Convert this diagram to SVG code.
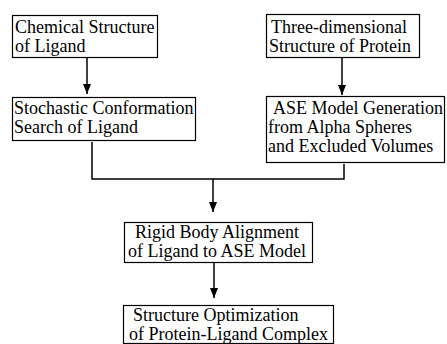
<svg xmlns="http://www.w3.org/2000/svg" width="447" height="344" viewBox="0 0 447 344">
<defs>
<marker id="ah" markerWidth="10" markerHeight="8" refX="10" refY="4" orient="auto" markerUnits="userSpaceOnUse" viewBox="0 0 10 8">
<path d="M0,0 L10,4 L0,8 Z" fill="#000"/>
</marker>
</defs>
<style>
rect{fill:#fff;stroke:#000;stroke-width:1.2}
text{font-family:'Liberation Serif','Times New Roman',serif;font-size:18px;fill:#000}
.c{fill:none;stroke:#000;stroke-width:1.5}
</style>
<rect x="0" y="0" width="447" height="344" style="stroke:none"/>
<g id="chem">
<rect x="12.5" y="15.5" width="145" height="42"/>
<text x="15" y="33">Chemical Structure</text>
<text x="15" y="52">of Ligand</text>
</g>
<g id="three">
<rect x="266.5" y="14.5" width="153" height="43"/>
<text x="271" y="33">Three-dimensional</text>
<text x="269" y="52">Structure of Protein</text>
</g>
<g id="stoch">
<rect x="12.5" y="97.5" width="183" height="43"/>
<text x="14" y="114">Stochastic Conformation</text>
<text x="14" y="133">Search of Ligand</text>
</g>
<g id="ase">
<rect x="266.5" y="96.5" width="178" height="66"/>
<text x="273" y="114">ASE Model Generation</text>
<text x="268" y="133">from Alpha Spheres</text>
<text x="268" y="152">and Excluded Volumes</text>
</g>
<g id="rigid">
<rect x="124.5" y="222.5" width="188" height="40"/>
<text x="135" y="238">Rigid Body Alignment</text>
<text x="128" y="257">of Ligand to ASE Model</text>
</g>
<g id="opt">
<rect x="123.5" y="305.5" width="210" height="38"/>
<text x="133" y="321">Structure Optimization</text>
<text x="129" y="340">of Protein-Ligand Complex</text>
</g>
<g id="connectors">
<path class="c" d="M87,58 V94" marker-end="url(#ah)"/>
<path class="c" d="M342,58 V95" marker-end="url(#ah)"/>
<path class="c" d="M92,142 V179 H344 V164"/>
<path class="c" d="M213,179 V212" marker-end="url(#ah)"/>
<path class="c" d="M214,263 V298" marker-end="url(#ah)"/>
</g>
</svg>
